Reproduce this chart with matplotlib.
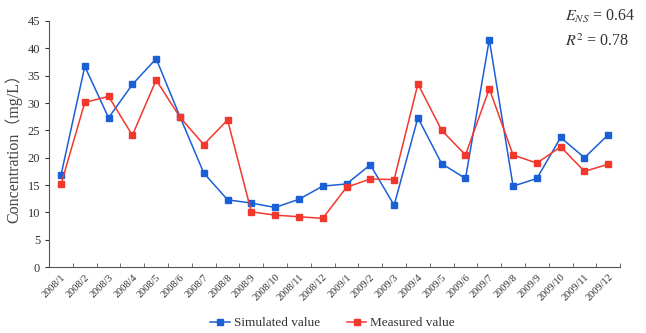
import numpy as np
import matplotlib.pyplot as plt

months = ['2008/%d' % m for m in range(1, 13)] + ['2009/%d' % m for m in range(1, 13)]
simulated = [16.8, 36.7, 27.3, 33.4, 38.1, 27.5, 17.2, 12.3, 11.7, 10.9, 12.4, 14.8,
             15.2, 18.7, 11.3, 27.3, 18.9, 16.2, 41.6, 14.8, 16.2, 23.7, 20.0, 24.2]
measured = [15.1, 30.1, 31.2, 24.1, 34.2, 27.4, 22.4, 26.9, 10.1, 9.5, 9.2, 8.9,
            14.6, 16.1, 16.0, 33.5, 25.0, 20.5, 32.6, 20.5, 19.0, 22.0, 17.5, 18.8]

plt.rcParams['font.family'] = ['Liberation Serif', 'DejaVu Serif']
plt.rcParams['text.color'] = '#333333'

fig = plt.figure(figsize=(6.46, 3.33), dpi=100)
ax = fig.add_axes([0.076, 0.198, 0.884, 0.739])

x = np.arange(len(months))
ax.plot(x, simulated, color='#1a5fd6', marker='s', markersize=5, lw=1.1, label='Simulated value')
ax.plot(x, measured, color='#f2382c', marker='s', markersize=5, lw=1.1, label='Measured value')

ax.set_xlim(-0.5, len(months) - 0.5)
ax.set_ylim(0, 45)
ax.set_yticks(range(0, 46, 5))
ax.set_xticks(x)
ax.set_xticklabels(months, rotation=45, ha='right', rotation_mode='anchor', fontsize=7.5, color='#333333')
ax.set_xticks(np.arange(-0.5, len(months), 1), minor=True)
ax.tick_params(axis='x', which='major', length=0, pad=4)
ax.tick_params(axis='x', which='minor', direction='in', length=3, color='#555555')
ax.tick_params(axis='y', direction='out', length=3, labelsize=9, colors='#333333')
for s in ['top', 'right']:
    ax.spines[s].set_visible(False)
for s in ['left', 'bottom']:
    ax.spines[s].set_color('#555555')

ax.set_ylabel('Concentration（mg/L）', fontsize=11.5, color='#444444',
              family=['Liberation Serif', 'Noto Sans CJK SC'])

fig.text(0.875, 0.952, r'$E_{NS}$ = 0.64', ha='left', va='center', fontsize=11.5, math_fontfamily='stix')
fig.text(0.875, 0.874, r'$R^2$ = 0.78', ha='left', va='center', fontsize=11.5, math_fontfamily='stix')

fig.legend(loc='lower center', bbox_to_anchor=(0.515, -0.025), ncol=2, frameon=False, fontsize=9.5,
           handlelength=1.5, handletextpad=0.3, columnspacing=2.0)

fig.savefig('out.png', dpi=100)
